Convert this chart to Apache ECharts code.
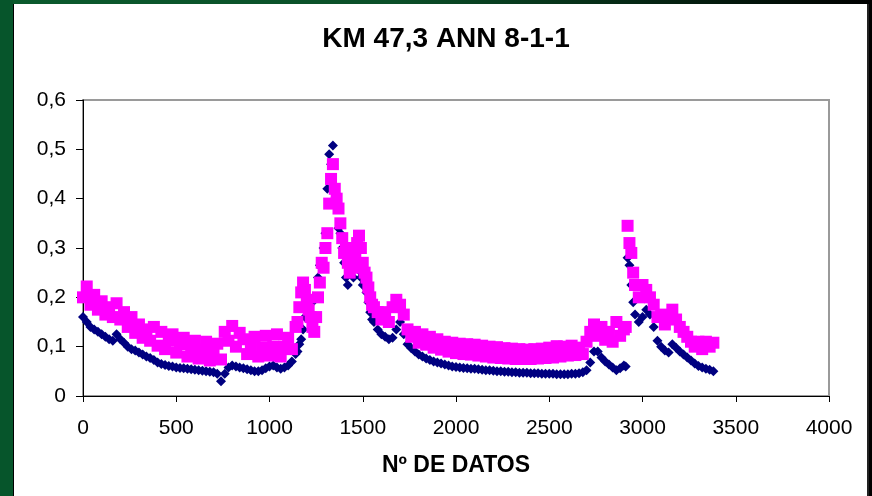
<!DOCTYPE html>
<html>
<head>
<meta charset="utf-8">
<script src="https://cdn.jsdelivr.net/npm/echarts@6/dist/echarts.min.js"></script>
<style>
  html, body { margin: 0; padding: 0; }
  body {
    width: 872px; height: 496px; overflow: hidden; position: relative;
    background: linear-gradient(to right, #0a5a2d 0%, #0a4f28 45%, #000 100%);
  }
  #leftStrip { position: absolute; left: 0; top: 0; width: 13px; height: 496px; background: #06552b; }
  #panel {
    position: absolute; left: 13px; top: 4px; width: 856px; height: 492px;
    background: #fff; border-left: 1px solid #000; border-right: 2px solid #222; box-sizing: border-box;
  }
  #chart { position: absolute; left: 0; top: 0; width: 872px; height: 496px; }
</style>
</head>
<body>
<div id="leftStrip"></div>
<div id="panel"></div>
<div id="chart"></div>
<script>
// Sample number (Nº de datos) shared by both series
const sampleNo = [
  0, 20, 40, 60, 80, 100, 120, 140, 160, 180, 200, 220, 240, 260, 280, 300, 320, 340, 360, 380,
  400, 420, 440, 460, 480, 500, 520, 540, 560, 580, 600, 620, 640, 660, 680, 700, 720, 740, 760, 780,
  800, 820, 840, 860, 880, 900, 920, 940, 960, 980, 1000, 1020, 1040, 1060, 1080, 1100, 1120, 1140,
  1150, 1160, 1170, 1180, 1190, 1200, 1210, 1220, 1230, 1240, 1250, 1260, 1270, 1280, 1290, 1300,
  1310, 1320, 1330, 1340, 1350, 1360, 1370, 1380, 1390, 1400, 1410, 1420, 1430, 1440, 1450, 1460,
  1470, 1480, 1490, 1500, 1510, 1520, 1530, 1540, 1550, 1560,
  1580, 1600, 1620, 1640, 1660, 1680, 1700, 1720, 1740, 1760, 1780, 1800, 1820, 1840, 1860, 1880,
  1900, 1920, 1940, 1960, 1980, 2000, 2020, 2040, 2060, 2080, 2100, 2120, 2140, 2160, 2180, 2200,
  2220, 2240, 2260, 2280, 2300, 2320, 2340, 2360, 2380, 2400, 2420, 2440, 2460, 2480, 2500, 2520,
  2540, 2560, 2580, 2600, 2620, 2640, 2660, 2680, 2700, 2720, 2740, 2760, 2780, 2800, 2820, 2840,
  2860, 2880, 2900, 2910, 2920, 2930, 2940, 2950, 2960, 2980, 3000, 3020, 3040, 3060, 3080, 3100,
  3120, 3140, 3160, 3180, 3200, 3220, 3240, 3260, 3280, 3300, 3320, 3340, 3360, 3380
];

// Series 1 (navy diamonds)
const serieA = [
  0.160, 0.150, 0.140, 0.135, 0.130, 0.125, 0.120, 0.115, 0.112, 0.125, 0.115, 0.108, 0.100, 0.095, 0.092, 0.088, 0.084, 0.080, 0.077, 0.073,
  0.068, 0.065, 0.063, 0.061, 0.060, 0.058, 0.057, 0.056, 0.055, 0.054, 0.053, 0.052, 0.051, 0.050, 0.049, 0.048, 0.045, 0.030, 0.045, 0.058,
  0.062, 0.060, 0.058, 0.056, 0.054, 0.052, 0.050, 0.050, 0.052, 0.056, 0.060, 0.062, 0.058, 0.055, 0.058, 0.062, 0.070, 0.085,
  0.090, 0.105, 0.115, 0.135, 0.160, 0.175, 0.180, 0.165, 0.190, 0.200, 0.160, 0.240, 0.265, 0.260, 0.300, 0.330,
  0.420, 0.490, 0.470, 0.508, 0.400, 0.390, 0.340, 0.330, 0.300, 0.270, 0.240, 0.225, 0.250, 0.260, 0.240, 0.260,
  0.270, 0.255, 0.240, 0.225, 0.230, 0.210, 0.190, 0.170, 0.155, 0.150,
  0.135, 0.125, 0.120, 0.115, 0.118, 0.135, 0.150, 0.125, 0.105, 0.097, 0.090, 0.084, 0.080, 0.076, 0.073, 0.070,
  0.068, 0.066, 0.064, 0.062, 0.060, 0.059, 0.058, 0.057, 0.056, 0.055, 0.055, 0.054, 0.053, 0.052, 0.052, 0.051,
  0.050, 0.050, 0.049, 0.049, 0.048, 0.048, 0.047, 0.047, 0.047, 0.046, 0.046, 0.046, 0.045, 0.045, 0.045, 0.045,
  0.044, 0.044, 0.044, 0.044, 0.045, 0.045, 0.046, 0.048, 0.052, 0.068, 0.090, 0.090, 0.078, 0.070, 0.064, 0.058,
  0.052, 0.056, 0.062, 0.060, 0.280, 0.265, 0.225, 0.190, 0.165, 0.150, 0.160, 0.175, 0.165, 0.140, 0.112, 0.100,
  0.092, 0.088, 0.105, 0.098, 0.090, 0.084, 0.078, 0.072, 0.066, 0.061, 0.058, 0.055, 0.053, 0.050
];

// Series 2 (magenta squares)
const serieB = [
  0.200, 0.222, 0.185, 0.205, 0.175, 0.192, 0.165, 0.180, 0.160, 0.188, 0.155, 0.170, 0.140, 0.160, 0.128, 0.145, 0.118, 0.135, 0.112, 0.140,
  0.102, 0.130, 0.095, 0.112, 0.125, 0.088, 0.105, 0.118, 0.080, 0.098, 0.112, 0.076, 0.094, 0.110, 0.072, 0.090, 0.106, 0.074, 0.130, 0.112,
  0.142, 0.100, 0.128, 0.115, 0.085, 0.100, 0.120, 0.080, 0.098, 0.122, 0.082, 0.100, 0.125, 0.080, 0.100, 0.118, 0.095, 0.140,
  0.150, 0.180, 0.210, 0.230, 0.215, 0.195, 0.175, 0.160, 0.140, 0.130, 0.160, 0.200, 0.230, 0.270, 0.260, 0.300,
  0.330, 0.390, 0.440, 0.470, 0.420, 0.400, 0.380, 0.350, 0.320, 0.290, 0.300, 0.270, 0.250, 0.280, 0.260, 0.290,
  0.310, 0.325, 0.300, 0.270, 0.250, 0.240, 0.220, 0.200, 0.185, 0.180,
  0.170, 0.155, 0.170, 0.150, 0.180, 0.195, 0.185, 0.165, 0.135, 0.120, 0.130, 0.108, 0.125, 0.104, 0.120, 0.098,
  0.115, 0.094, 0.110, 0.090, 0.108, 0.087, 0.106, 0.085, 0.105, 0.084, 0.104, 0.082, 0.102, 0.080, 0.100, 0.078,
  0.099, 0.077, 0.097, 0.076, 0.096, 0.075, 0.095, 0.075, 0.094, 0.075, 0.095, 0.076, 0.096, 0.077, 0.098, 0.078,
  0.101, 0.080, 0.100, 0.082, 0.102, 0.083, 0.098, 0.085, 0.110, 0.130, 0.145, 0.122, 0.140, 0.114, 0.130, 0.110,
  0.150, 0.122, 0.135, 0.140, 0.345, 0.310, 0.290, 0.250, 0.225, 0.200, 0.225, 0.215, 0.200, 0.185, 0.160, 0.165,
  0.145, 0.160, 0.175, 0.155, 0.140, 0.130, 0.120, 0.110, 0.100, 0.110, 0.095, 0.110, 0.100, 0.108
];

const yTicks = [0, 0.1, 0.2, 0.3, 0.4, 0.5, 0.6];
const yTickLabels = ['0', '0,1', '0,2', '0,3', '0,4', '0,5', '0,6'];
const xTickLabels = ['0', '500', '1000', '1500', '2000', '2500', '3000', '3500', '4000'];

const pairs = (vals) => sampleNo.map((x, i) => [x, vals[i]]);
const font = '"Liberation Sans", Arial, sans-serif';

const chart = echarts.init(document.getElementById('chart'), null, { renderer: 'canvas' });
chart.setOption({
  backgroundColor: 'transparent',
  animation: false,
  title: {
    text: 'KM 47,3 ANN 8-1-1',
    left: 441, top: 20, textAlign: 'center',
    textStyle: { fontFamily: font, fontWeight: 'bold', fontSize: 28, color: '#000' }
  },
  grid: {
    left: 83, right: 43, top: 100, bottom: 100,
    show: true, borderColor: '#9a9a9a', borderWidth: 2, backgroundColor: 'transparent'
  },
  xAxis: {
    type: 'value', min: 0, max: 4000, interval: 500,
    name: 'Nº DE DATOS', nameLocation: 'middle', nameGap: 58,
    nameTextStyle: { fontFamily: font, fontWeight: 'bold', fontSize: 23, color: '#000' },
    axisLine: { show: true, lineStyle: { color: '#000', width: 1 } },
    axisTick: { show: true, inside: false, length: 6, lineStyle: { color: '#000' } },
    axisLabel: {
      margin: 22, fontFamily: font, fontSize: 21, color: '#000',
      formatter: (v) => xTickLabels[Math.round(v / 500)]
    },
    splitLine: { show: false }
  },
  yAxis: {
    type: 'value', min: 0, max: 0.6, interval: 0.1,
    axisLine: { show: true, lineStyle: { color: '#000', width: 1 } },
    axisTick: { show: true, inside: false, length: 7, lineStyle: { color: '#000' } },
    axisLabel: {
      margin: 17, fontFamily: font, fontSize: 21, color: '#000',
      formatter: (v) => yTickLabels[yTicks.findIndex(t => Math.abs(t - v) < 1e-6)]
    },
    splitLine: { show: false }
  },
  series: [
    {
      type: 'scatter', name: 'A', data: pairs(serieA),
      symbol: 'diamond', symbolSize: 10,
      itemStyle: { color: '#000080', opacity: 1, borderWidth: 0 }, z: 2
    },
    {
      type: 'scatter', name: 'B', data: pairs(serieB),
      symbol: 'rect', symbolSize: 12,
      itemStyle: { color: '#ff00ff', opacity: 1, borderWidth: 0 }, z: 3
    }
  ]
});
</script>
</body>
</html>
